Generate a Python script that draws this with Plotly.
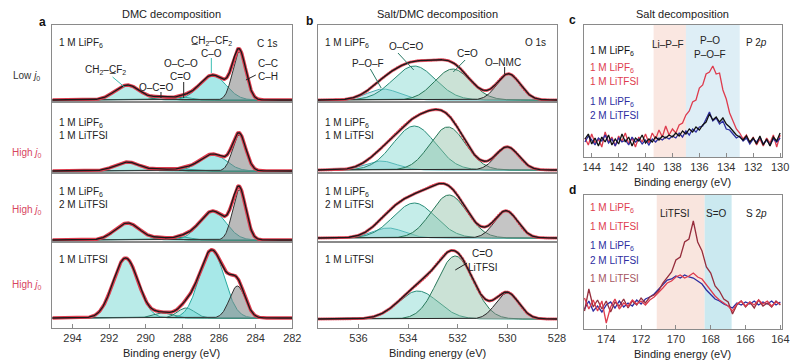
import numpy as np
import plotly.graph_objects as go

W, H = 800, 364
FONT = "Liberation Sans, Arial, Helvetica, sans-serif"

# ---------------- Panel a : C 1s fitted components (center eV, height a.u., FWHM eV) -------------
A_ROW_TEXT = ["1 M LiPF<sub>6</sub>", "1 M LiPF<sub>6</sub><br>1 M LiTFSI",
              "1 M LiPF<sub>6</sub><br>2 M LiTFSI", "1 M LiTFSI"]
A_ROW_LEVEL = ["Low", "High", "High", "High"]
A_CENTERS = [[291.0, 289.2, 288.0, 286.35, 284.9],
             [291.0, 289.2, 288.0, 286.35, 284.9],
             [291.0, 289.2, 288.0, 286.35, 284.9],
             [291.1, 289.1, 287.8, 286.4, 285.0]]
A_HEIGHTS = [[15, 3, 3, 25, 48],
             [9, 2, 2, 17, 36],
             [17, 2, 3, 29, 50],
             [60, 5, 10, 68, 32]]
A_FWHM = [[1.6, 1.0, 1.1, 1.7, 0.85],
          [1.6, 1.0, 1.1, 1.7, 0.85],
          [1.6, 1.0, 1.1, 1.7, 0.85],
          [1.6, 1.2, 1.1, 1.6, 1.0]]
A_FILL = ["rgba(100,210,205,0.45)", "rgba(100,200,190,0.35)", "rgba(100,200,190,0.35)",
          "rgba(80,210,210,0.5)", "rgba(130,130,130,0.55)"]
A_LINE = ["rgb(40,160,150)", "rgb(40,120,100)", "rgb(40,120,100)",
          "rgb(40,170,160)", "rgb(50,50,50)"]

# ---------------- Panel b : O 1s fitted components -------------
B_ROW_TEXT = A_ROW_TEXT
B_CENTERS = [[535.0, 533.75, 532.2, 529.95],
             [535.1, 533.75, 532.4, 530.0],
             [534.8, 533.75, 532.35, 530.05],
             [534.8, 533.6, 532.1, 530.0]]
B_HEIGHTS = [[11, 34, 31, 26],
             [9, 44, 43, 23],
             [10, 35, 43, 27],
             [0, 28, 63, 26]]
B_FWHM = [[1.5, 2.0, 1.7, 1.1],
          [1.5, 2.0, 1.7, 1.1],
          [1.5, 2.0, 1.7, 1.1],
          [1.5, 1.9, 1.7, 1.1]]
B_FILL = ["rgba(130,200,215,0.4)", "rgba(110,210,200,0.4)",
          "rgba(140,190,165,0.45)", "rgba(140,140,140,0.5)"]
B_LINE = ["rgb(70,170,175)", "rgb(40,140,120)", "rgb(40,120,90)", "rgb(40,40,40)"]

# ---------------- Panel c : P 2p spectra -------------
C_E = [144.5, 144.25, 144.0, 143.75, 143.5, 143.25, 143.0, 142.75, 142.5, 142.25,
       142.0, 141.75, 141.5, 141.25, 141.0, 140.75, 140.5, 140.25, 140.0, 139.75,
       139.5, 139.25, 139.0, 138.75, 138.5, 138.25, 138.0, 137.75, 137.5, 137.25,
       137.0, 136.75, 136.5, 136.25, 136.0, 135.75, 135.5, 135.25, 135.0, 134.75,
       134.5, 134.25, 134.0, 133.75, 133.5, 133.25, 133.0, 132.75, 132.5, 132.25,
       132.0, 131.75, 131.5, 131.25, 131.0, 130.75, 130.5, 130.25, 130.0]
C_RED = [2, -5, 6, -3, 1, -7, 8, -2, 3, -6, 4, -1, 7, -4, 2, -7, 3, -2, 6, -3,
         7, 1, 10, 3, 14, 5, 11, 7, 15, 17, 25, 29, 38, 40, 52, 55, 66, 68, 74, 66,
         67, 50, 41, 27, 19, 11, 7, 1, 5, -3, 3, -5, 1, -6, 2, -3, 5, -7, 5]
C_BLACK = [1, 6, -4, 2, -6, 3, -2, 5, -5, 1, -4, 6, -2, 3, -6, 2, -1, 5, -3, 1,
           -2, 3, 0, 4, 2, 5, 3, 7, 4, 9, 6, 11, 8, 13, 10, 15, 18, 26, 20, 23,
           18, 22, 16, 13, 9, 5, 3, 0, 4, -2, 2, -4, 4, -5, 1, -6, 3, -1, 7]
C_BLUE = [-2, 4, 0, -5, 2, -1, 5, -3, 1, -6, 2, -2, 0, -5, 3, -2, 1, -4, 0, -5,
          1, -2, 2, 0, 3, 1, 4, 2, 7, 3, 9, 5, 11, 8, 13, 14, 21, 28, 19, 22,
          16, 19, 11, 10, 6, 2, 4, -1, 2, -4, 1, -2, 3, -4, 0, -5, 1, -2, 2]
C_REGIONS = [(139.4, 137.0, "rgba(245,212,200,0.55)"), (137.0, 133.0, "rgba(200,226,240,0.6)")]

# ---------------- Panel d : S 2p spectra -------------
D_E = [175.25, 175.0, 174.75, 174.5, 174.25, 174.0, 173.75, 173.5, 173.25, 173.0,
       172.75, 172.5, 172.25, 172.0, 171.75, 171.5, 171.25, 171.0, 170.75, 170.5,
       170.25, 170.0, 169.75, 169.5, 169.25, 169.0, 168.75, 168.5, 168.25, 168.0,
       167.75, 167.5, 167.25, 167.0, 166.75, 166.5, 166.25, 166.0, 165.75, 165.5,
       165.25, 165.0, 164.75, 164.5, 164.25, 164.0]
D_LITFSI = [-8, 14, -4, 3, -6, 2, -9, 1, -3, 4, -5, 2, -2, 5, 0, 6, 8, 12, 20, 26,
            31, 43, 46, 61, 64, 82, 61, 52, 36, 30, 17, 12, 4, 1, -11, -2, 2, -4, 1, -5,
            3, -3, 0, -4, 2, -2]
D_RED = [5, -6, 3, -8, 2, -20, -4, 4, -6, 0, -3, 3, -1, 2, -2, 3, 6, 10, 15, 20,
         22, 26, 28, 25, 27, 30, 26, 24, 18, 12, 7, 3, 0, -3, -8, -1, 2, -3, 1, -2,
         3, -1, 2, -3, 1, -1]
D_BLUE = [-6, 2, -8, -3, -9, -2, 1, -5, 2, -4, 0, -3, 3, -1, 4, 6, 9, 14, 18, 23,
          24, 27, 25, 28, 26, 25, 22, 19, 13, 8, 4, 2, -1, -3, -5, 0, -2, 1, -1, 2,
          -2, 1, -1, 2, -2, 1]
D_REGIONS = [(171.1, 168.35, "rgba(245,212,200,0.6)"), (168.35, 166.8, "rgba(185,226,235,0.75)")]

RED = "rgb(222,60,78)"
BLUE = "rgb(45,45,160)"
BROWN = "rgb(150,45,60)"
PINKTXT = "rgb(215,70,95)"


def px(x, y):
    return x / W, 1 - y / H


def gauss(E, c, h, fwhm):
    s = fwhm / 2.3548
    return h * np.exp(-0.5 * ((E - c) / s) ** 2)


# layout geometry (pixels)
ROW_EDGES = [25, 102, 173, 242, 328]
A_BASE = [100, 171, 240, 318]
B_BASE = [100, 170, 238, 319]
A_X = (52, 295)
B_X = (321, 563)
C_X = (590, 791)
A_RANGE = [295.1, 282]
B_RANGE = [537.63, 528]
C_RANGE = [144.6, 129.85]
D_RANGE = [175.3, 163.9]

fig = go.Figure()
layout = dict(width=W, height=H, margin=dict(l=0, r=0, t=0, b=0),
              paper_bgcolor="white", plot_bgcolor="white", showlegend=False,
              font=dict(family=FONT, size=11, color="#222"))
annotations = []
shapes = []

AXC = "#8a8a8a"


def add_axes(i, xdom, ydom, xr, yr, ticks=None):
    xa = dict(domain=[xdom[0] / W, xdom[1] / W], range=xr, anchor=f"y{i}",
              showline=True, mirror=True, linecolor=AXC, linewidth=1,
              showgrid=False, zeroline=False, fixedrange=True)
    if ticks is not None:
        xa.update(tickvals=ticks, ticks="inside", ticklen=4, tickcolor=AXC,
                  showticklabels=True, tickfont=dict(size=11, color="#333", family=FONT))
    else:
        xa.update(showticklabels=False, ticks="")
    ya = dict(domain=[1 - ydom[1] / H, 1 - ydom[0] / H], range=yr, anchor=f"x{i}",
              showline=True, mirror=True, linecolor=AXC, linewidth=1,
              showgrid=False, zeroline=False, showticklabels=False, ticks="",
              fixedrange=True)
    layout["xaxis" if i == 1 else f"xaxis{i}"] = xa
    layout["yaxis" if i == 1 else f"yaxis{i}"] = ya


def ref(i):
    return ("x" if i == 1 else f"x{i}"), ("y" if i == 1 else f"y{i}")


# ---------------- Panel a ----------------
EA = np.linspace(A_RANGE[0], A_RANGE[1], 600)
for r in range(4):
    i = r + 1
    top, bot = ROW_EDGES[r], ROW_EDGES[r + 1]
    base = A_BASE[r]
    add_axes(i, A_X, (top, bot), A_RANGE, [-(bot - base), base - top],
             ticks=[294, 292, 290, 288, 286, 284, 282] if r == 3 else None)
    xr, yr = ref(i)
    total = np.zeros_like(EA)
    for k in range(5):
        yk = gauss(EA, A_CENTERS[r][k], A_HEIGHTS[r][k], A_FWHM[r][k])
        total += yk
        fig.add_trace(go.Scatter(x=EA, y=yk, mode="lines", fill="tozeroy",
                                 fillcolor=A_FILL[k], line=dict(color=A_LINE[k], width=1),
                                 xaxis=xr, yaxis=yr, hoverinfo="skip"))
    fig.add_trace(go.Scatter(x=EA, y=total, mode="lines", line=dict(color=RED, width=3.4),
                             xaxis=xr, yaxis=yr, hoverinfo="skip"))
    fig.add_trace(go.Scatter(x=EA, y=total, mode="lines", line=dict(color="#1a1a1a", width=1.3),
                             xaxis=xr, yaxis=yr, hoverinfo="skip"))

# ---------------- Panel b ----------------
EB = np.linspace(B_RANGE[0], B_RANGE[1], 600)
EBd = np.linspace(B_RANGE[0], B_RANGE[1], 140)
for r in range(4):
    i = r + 5
    top, bot = ROW_EDGES[r], ROW_EDGES[r + 1]
    base = B_BASE[r]
    add_axes(i, B_X, (top, bot), B_RANGE, [-(bot - base), base - top],
             ticks=[536, 534, 532, 530, 528] if r == 3 else None)
    xr, yr = ref(i)
    total = np.zeros_like(EB)
    totd = np.zeros_like(EBd)
    for k in range(4):
        if B_HEIGHTS[r][k] <= 0:
            continue
        yk = gauss(EB, B_CENTERS[r][k], B_HEIGHTS[r][k], B_FWHM[r][k])
        total += yk
        totd += gauss(EBd, B_CENTERS[r][k], B_HEIGHTS[r][k], B_FWHM[r][k])
        fig.add_trace(go.Scatter(x=EB, y=yk, mode="lines", fill="tozeroy",
                                 fillcolor=B_FILL[k], line=dict(color=B_LINE[k], width=1),
                                 xaxis=xr, yaxis=yr, hoverinfo="skip"))
    fig.add_trace(go.Scatter(x=EB, y=total, mode="lines", line=dict(color="rgba(222,60,78,0.6)", width=3),
                             xaxis=xr, yaxis=yr, hoverinfo="skip"))
    fig.add_trace(go.Scatter(x=EBd, y=totd, mode="markers", marker=dict(color=RED, size=2.5),
                             xaxis=xr, yaxis=yr, hoverinfo="skip"))
    fig.add_trace(go.Scatter(x=EB, y=total, mode="lines", line=dict(color="#1a1a1a", width=1.3),
                             xaxis=xr, yaxis=yr, hoverinfo="skip"))

# ---------------- Panel c ----------------
add_axes(9, C_X, (25, 157), C_RANGE, [-17, 115], ticks=[144, 142, 140, 138, 136, 134, 132, 130])
xr, yr = ref(9)
for x0, x1, col in C_REGIONS:
    shapes.append(dict(type="rect", xref=xr, yref=f"{yr} domain", x0=x0, x1=x1, y0=0, y1=1,
                       fillcolor=col, line=dict(width=0), layer="below"))
for ys, col in [(C_RED, RED), (C_BLUE, BLUE), (C_BLACK, "#111111")]:
    fig.add_trace(go.Scatter(x=C_E, y=ys, mode="lines", line=dict(color=col, width=1.3),
                             xaxis=xr, yaxis=yr, hoverinfo="skip"))

# ---------------- Panel d ----------------
add_axes(10, C_X, (195, 329), D_RANGE, [-26, 108], ticks=[174, 172, 170, 168, 166, 164])
xr, yr = ref(10)
for x0, x1, col in D_REGIONS:
    shapes.append(dict(type="rect", xref=xr, yref=f"{yr} domain", x0=x0, x1=x1, y0=0, y1=1,
                       fillcolor=col, line=dict(width=0), layer="below"))
for ys, col in [(D_BLUE, BLUE), (D_LITFSI, BROWN), (D_RED, RED)]:
    fig.add_trace(go.Scatter(x=D_E, y=ys, mode="lines", line=dict(color=col, width=1.3),
                             xaxis=xr, yaxis=yr, hoverinfo="skip"))


# ---------------- text ----------------
def txt(x, y, s, size=10, color="#222", xanchor="left", yanchor="middle", bold=False):
    xx, yy = px(x, y)
    annotations.append(dict(x=xx, y=yy, xref="paper", yref="paper", text=(f"<b>{s}</b>" if bold else s),
                            showarrow=False, xanchor=xanchor, yanchor=yanchor, align="left",
                            borderpad=0,
                            font=dict(size=size, color=color, family=FONT)))


def seg(x0, y0, x1, y1, color="#222"):
    a0, b0 = px(x0, y0)
    a1, b1 = px(x1, y1)
    shapes.append(dict(type="line", xref="paper", yref="paper", x0=a0, y0=b0, x1=a1, y1=b1,
                       line=dict(color=color, width=1)))


# panel letters and titles
txt(42, 22, "a", 12, "#111", "center", bold=True)
txt(312, 21, "b", 12, "#111", "center", bold=True)
txt(579, 20, "c", 12, "#111", "center", bold=True)
txt(579, 190, "d", 12, "#111", "center", bold=True)
txt(173, 14, "DMC decomposition", 11, "#222", "center")
txt(442, 14, "Salt/DMC decomposition", 11, "#222", "center")
txt(690, 14, "Salt decomposition", 11, "#222", "center")
for xc, yc in [(173, 353), (442, 353), (690, 182), (690, 354)]:
    txt(xc, yc, "Binding energy (eV)", 11, "#222", "center")

# row labels
ROW_LABEL_Y = [76, 153, 210, 285]
for r in range(4):
    col = "#333" if A_ROW_LEVEL[r] == "Low" else PINKTXT
    txt(26, ROW_LABEL_Y[r], f"{A_ROW_LEVEL[r]} <i>j</i><sub>0</sub>", 10, col, "center")

# sample labels in a and b
ROW_TEXT_Y = [43, 129, 198, 259]
for r in range(4):
    txt(58, ROW_TEXT_Y[r], A_ROW_TEXT[r], 10, "#222")
    txt(327, ROW_TEXT_Y[r], B_ROW_TEXT[r], 10, "#222")

# panel a peak labels
txt(106, 70, "CH<sub>2</sub>–C\u0332F<sub>2</sub>", 10, "#222", "center")
seg(113, 77, 125, 87, "rgb(60,190,180)")
txt(157, 87, "O–C=O", 10, "#222", "center")
seg(162, 92, 162, 98)
txt(182, 63, "O–C–O", 10, "#222", "center")
txt(182, 76, "C=O", 10, "#222", "center")
seg(185, 82, 185, 98)
txt(213, 41, "C\u0332H<sub>2</sub>–CF<sub>2</sub>", 10, "#222", "center")
txt(213, 53, "C–O", 10, "#222", "center")
seg(213, 58, 213, 73, "rgb(60,190,180)")
txt(270, 43, "C 1s", 10, "#222", "center")
txt(270, 63, "C–C", 10, "#222", "center")
txt(270, 76, "C–H", 10, "#222", "center")
seg(258, 75, 248, 80)

# panel b peak labels
txt(372, 63, "P–O–F", 10, "#222", "center")
seg(374, 69, 385, 88, "rgb(40,120,100)")
txt(410, 47, "O–C=O", 10, "#222", "center")
seg(402, 53, 418, 70, "rgb(40,120,100)")
txt(472, 53, "C=O", 10, "#222", "center")
seg(470, 60, 458, 72, "rgb(40,120,100)")
txt(508, 62, "O–NMC", 10, "#222", "center")
seg(510, 67, 510, 74)
txt(541, 42, "O 1s", 10, "#222", "center")
txt(488, 253, "C=O", 10, "#222", "center")
txt(488, 267, "LiTFSI", 10, "#222", "center")
seg(472, 263, 460, 270)

# panel c labels
txt(595, 51, "1 M LiPF<sub>6</sub>", 10, "#111")
txt(595, 68, "1 M LiPF<sub>6</sub>", 10, RED)
txt(595, 82, "1 M LiTFSI", 10, RED)
txt(595, 102, "1 M LiPF<sub>6</sub>", 10, BLUE)
txt(595, 115, "2 M LiTFSI", 10, BLUE)
txt(675, 44, "Li–P–F", 10, "#222", "center")
txt(718, 40, "P–O", 10, "#222", "center")
txt(718, 54, "P–O–F", 10, "#222", "center")
txt(765, 42, "P 2<i>p</i>", 10, "#222", "center")

# panel d labels
txt(595, 208, "1 M LiPF<sub>6</sub>", 10, RED)
txt(595, 226, "1 M LiTFSI", 10, RED)
txt(595, 246, "1 M LiPF<sub>6</sub>", 10, BLUE)
txt(595, 260, "2 M LiTFSI", 10, BLUE)
txt(595, 278, "1 M LiTFSI", 10, "rgb(165,85,95)")
txt(682, 213, "LiTFSI", 10, "#222", "center")
txt(725, 213, "S=O", 10, "#222", "center")
txt(765, 213, "S 2<i>p</i>", 10, "#222", "center")

layout["annotations"] = annotations
layout["shapes"] = shapes
fig.update_layout(**layout)
fig.write_html("out.html", config={"displayModeBar": False, "staticPlot": True})

# remove the default page margin so the 800x364 figure fills the window exactly
with open("out.html", "r", encoding="utf-8") as f:
    html = f.read()
html = html.replace("<head>", "<head><style>html,body{margin:0;padding:0;overflow:hidden;}</style>", 1)
with open("out.html", "w", encoding="utf-8") as f:
    f.write(html)
